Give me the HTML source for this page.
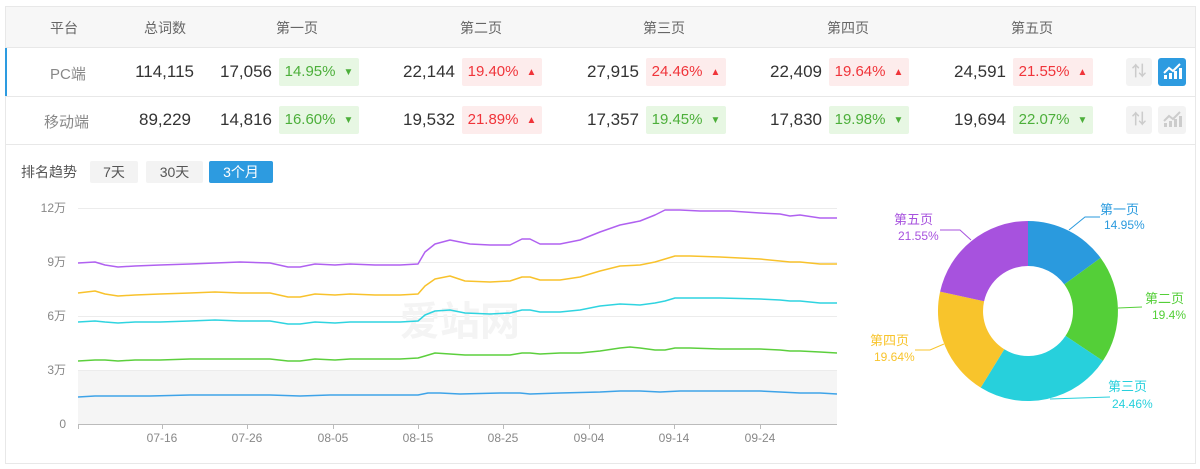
<!DOCTYPE html>
<html><head><meta charset="utf-8"><style>
body{margin:0;width:1200px;height:469px;background:#fff;font-family:"Liberation Sans","Noto Sans CJK SC",sans-serif;position:relative;overflow:hidden}
.a{position:absolute}
.h{color:#666;font-size:14px;top:18px}
.n{color:#333;font-size:17px;text-align:right;width:80px}
.b{width:80px;height:28px;line-height:28px;font-size:15px;border-radius:2px;text-align:center}
.r{background:#fdecec;color:#f0343a}
.g{background:#e7f7e3;color:#4caf3a}
.tri{font-size:10px;margin-left:8px;vertical-align:1px}
.btn{height:22px;line-height:22px;text-align:center;font-size:14px;background:#f3f3f3;color:#555;top:161px;border-radius:2px}
</style></head><body>
<div class="a" style="left:5px;top:6px;width:1191px;height:139px;border:1px solid #e8e8e8;box-sizing:border-box"></div>
<div class="a" style="left:6px;top:7px;width:1189px;height:40px;background:#f7f7f7;border-bottom:1px solid #e8e8e8"></div>
<div class="a" style="left:6px;top:96px;width:1189px;height:1px;background:#e8e8e8"></div>
<div class="a" style="left:5px;top:48px;width:2px;height:48px;background:#2d9be0"></div>
<div class="a h" style="left:50px">平台</div>
<div class="a h" style="left:144px">总词数</div>
<div class="a h" style="left:276px">第一页</div>
<div class="a h" style="left:460px">第二页</div>
<div class="a h" style="left:643px">第三页</div>
<div class="a h" style="left:827px">第四页</div>
<div class="a h" style="left:1011px">第五页</div>

<div class="a" style="left:50px;top:63px;color:#888;font-size:15px">PC端</div>
<div class="a" style="left:44px;top:111px;color:#888;font-size:15px">移动端</div>
<div class="a n" style="left:114px;top:62px">114,115</div>
<div class="a n" style="left:111px;top:110px">89,229</div>

<div class="a n" style="left:192px;top:62px">17,056</div><div class="a b g" style="left:279px;top:58px">14.95%<span class="tri">▼</span></div>
<div class="a n" style="left:375px;top:62px">22,144</div><div class="a b r" style="left:462px;top:58px">19.40%<span class="tri">▲</span></div>
<div class="a n" style="left:559px;top:62px">27,915</div><div class="a b r" style="left:646px;top:58px">24.46%<span class="tri">▲</span></div>
<div class="a n" style="left:742px;top:62px">22,409</div><div class="a b r" style="left:829px;top:58px">19.64%<span class="tri">▲</span></div>
<div class="a n" style="left:926px;top:62px">24,591</div><div class="a b r" style="left:1013px;top:58px">21.55%<span class="tri">▲</span></div>

<div class="a n" style="left:192px;top:110px">14,816</div><div class="a b g" style="left:279px;top:106px">16.60%<span class="tri">▼</span></div>
<div class="a n" style="left:375px;top:110px">19,532</div><div class="a b r" style="left:462px;top:106px">21.89%<span class="tri">▲</span></div>
<div class="a n" style="left:559px;top:110px">17,357</div><div class="a b g" style="left:646px;top:106px">19.45%<span class="tri">▼</span></div>
<div class="a n" style="left:742px;top:110px">17,830</div><div class="a b g" style="left:829px;top:106px">19.98%<span class="tri">▼</span></div>
<div class="a n" style="left:926px;top:110px">19,694</div><div class="a b g" style="left:1013px;top:106px">22.07%<span class="tri">▼</span></div>

<div class="a" style="left:1126px;top:58px;width:26px;height:28px;background:#f3f3f3;border-radius:3px;color:#ccc;text-align:center;line-height:28px;font-size:15px;font-weight:bold">⇅</div>
<div class="a" style="left:1158px;top:58px;width:28px;height:28px;background:#2d9be0;border-radius:3px"><svg width="28" height="28"><path d="M6 21h3v-4H6zM11 21h3v-6h-3zM16 21h3v-8h-3zM21 21h3v-11h-3z" fill="#fff"/><path d="M6 15l5-5 4 3 7-7" stroke="#fff" stroke-width="2" fill="none"/></svg></div>
<div class="a" style="left:1126px;top:106px;width:26px;height:28px;background:#f3f3f3;border-radius:3px;color:#ccc;text-align:center;line-height:28px;font-size:15px;font-weight:bold">⇅</div>
<div class="a" style="left:1158px;top:106px;width:28px;height:28px;background:#f3f3f3;border-radius:3px"><svg width="28" height="28"><path d="M6 21h3v-4H6zM11 21h3v-6h-3zM16 21h3v-8h-3zM21 21h3v-11h-3z" fill="#ccc"/><path d="M6 15l5-5 4 3 7-7" stroke="#ccc" stroke-width="2" fill="none"/></svg></div>

<div class="a" style="left:5px;top:145px;width:1191px;height:319px;border:1px solid #e8e8e8;border-top:none;box-sizing:border-box"></div>
<div class="a" style="left:21px;top:162px;font-size:14px;color:#555">排名趋势</div>
<div class="a btn" style="left:90px;width:48px">7天</div>
<div class="a btn" style="left:146px;width:57px">30天</div>
<div class="a btn" style="left:209px;width:64px;background:#2d9be0;color:#fff">3个月</div>

<svg class="a" style="left:0;top:0" width="1200" height="469">
<rect x="78" y="370" width="759" height="54" fill="#f5f5f5"/>
<g stroke="#ececec" stroke-width="1"><line x1="78" y1="208.5" x2="837" y2="208.5"/><line x1="78" y1="262.5" x2="837" y2="262.5"/><line x1="78" y1="316.5" x2="837" y2="316.5"/><line x1="78" y1="370.5" x2="837" y2="370.5"/></g>
<line x1="78" y1="424.5" x2="837" y2="424.5" stroke="#bbb"/>
<g stroke="#bbb"><line x1="78.5" y1="424" x2="78.5" y2="429"/><line x1="162.5" y1="424" x2="162.5" y2="429"/><line x1="247.5" y1="424" x2="247.5" y2="429"/><line x1="333.5" y1="424" x2="333.5" y2="429"/><line x1="418.5" y1="424" x2="418.5" y2="429"/><line x1="503.5" y1="424" x2="503.5" y2="429"/><line x1="589.5" y1="424" x2="589.5" y2="429"/><line x1="674.5" y1="424" x2="674.5" y2="429"/><line x1="760.5" y1="424" x2="760.5" y2="429"/></g>
<g font-size="12" fill="#888" text-anchor="middle"><text x="162" y="442">07-16</text><text x="247" y="442">07-26</text><text x="333" y="442">08-05</text><text x="418" y="442">08-15</text><text x="503" y="442">08-25</text><text x="589" y="442">09-04</text><text x="674" y="442">09-14</text><text x="760" y="442">09-24</text></g>
<g font-size="12" fill="#888" text-anchor="end"><text x="66" y="212">12万</text><text x="66" y="266">9万</text><text x="66" y="320">6万</text><text x="66" y="374">3万</text><text x="66" y="428">0</text></g>
<text x="400" y="335" font-size="40" fill="#f4f4f4" font-weight="bold">爱站网</text>
<g fill="none" stroke-width="1.5" stroke-linejoin="round">
<polyline stroke="#b061f0" points="78,263 95,262 105,265 118,267 135,266 160,265 190,264 215,263 240,262 270,263 288,267 300,267 315,264 335,265 350,264 375,265 400,265 418,264 425,252 435,244 450,240 470,244 490,245 510,245 522,239 530,239 540,244 560,244 580,240 600,232 620,225 640,221 655,215 665,210 680,210 700,211 730,211 760,213 780,214 790,216 800,215 820,218 837,218"/>
<polyline stroke="#f8c22c" points="78,293 95,291 105,294 118,296 135,295 160,294 190,293 215,292 240,293 270,293 288,297 300,297 315,294 335,295 350,294 375,295 400,295 418,294 425,286 435,279 450,276 465,281 490,282 510,281 522,277 530,277 540,280 560,280 580,277 600,271 620,266 640,265 655,262 665,259 675,256 690,256 720,257 760,259 780,261 790,262 800,262 820,264 837,264"/>
<polyline stroke="#2fd4e0" points="78,322 95,321 105,322 118,323 135,322 160,322 190,321 215,320 240,321 270,321 288,324 300,324 315,322 335,323 350,322 375,322 400,322 418,321 425,315 435,311 450,310 465,313 490,314 510,313 522,310 530,310 540,312 560,312 580,310 600,306 620,304 640,305 655,303 665,301 675,298 690,298 720,298 760,299 780,300 790,301 800,301 820,303 837,303"/>
<polyline stroke="#5ccf3d" points="78,361 95,360 105,360 118,361 135,360 160,360 190,359 215,359 240,359 270,359 288,361 300,361 315,359 335,360 350,359 375,359 400,359 418,358 425,356 435,353 450,354 465,355 490,355 510,355 522,353 530,353 540,354 560,353 580,353 600,351 620,348 630,347 640,348 655,350 665,350 675,348 690,348 720,349 760,349 780,350 790,351 800,351 820,352 837,353"/>
<polyline stroke="#3ea3e8" points="78,397 95,396 120,396 150,396 190,395 240,395 270,395 300,396 330,395 360,395 400,395 418,395 428,393 440,393 460,394 500,393 520,393 530,394 560,393 600,392 620,391 640,391 660,392 680,391 700,391 720,391 760,391 780,392 800,393 820,393 837,394"/>
</g>
<path d="M1028,221 A90,90 0 0 1 1100.6,257.9 L1064.3,284.4 A45,45 0 0 0 1028,266 Z" fill="#2a9ade"/>
<path d="M1100.6,257.9 A90,90 0 0 1 1102.9,360.9 L1065.5,335.9 A45,45 0 0 0 1064.3,284.4 Z" fill="#54cf38"/>
<path d="M1102.9,360.9 A90,90 0 0 1 980.7,387.6 L1004.3,349.3 A45,45 0 0 0 1065.5,335.9 Z" fill="#27d0dc"/>
<path d="M980.7,387.6 A90,90 0 0 1 940.1,291.6 L984.1,301.3 A45,45 0 0 0 1004.3,349.3 Z" fill="#f8c42c"/>
<path d="M940.1,291.6 A90,90 0 0 1 1028,221 L1028,266 A45,45 0 0 0 984.1,301.3 Z" fill="#a752de"/>
<g fill="none" stroke-width="1"><polyline stroke="#2a9ade" points="1069,230 1085,217 1100,217"/><polyline stroke="#54cf38" points="1118,308 1142,307"/><polyline stroke="#27d0dc" points="1050,399 1110,397"/><polyline stroke="#f8c42c" points="944,344 930,350 915,350"/><polyline stroke="#a752de" points="971,240 960,230 940,230"/></g>
<g font-size="13"><text x="1100" y="214" fill="#2a9ade">第一页</text><text x="1104" y="229" fill="#2a9ade" font-size="12">14.95%</text>
<text x="1145" y="303" fill="#54cf38">第二页</text><text x="1152" y="319" fill="#54cf38" font-size="12">19.4%</text>
<text x="1108" y="391" fill="#27d0dc">第三页</text><text x="1112" y="408" fill="#27d0dc" font-size="12">24.46%</text>
<text x="870" y="345" fill="#f8c42c">第四页</text><text x="874" y="361" fill="#f8c42c" font-size="12">19.64%</text>
<text x="894" y="224" fill="#a752de">第五页</text><text x="898" y="240" fill="#a752de" font-size="12">21.55%</text></g>
</svg>
</body></html>
